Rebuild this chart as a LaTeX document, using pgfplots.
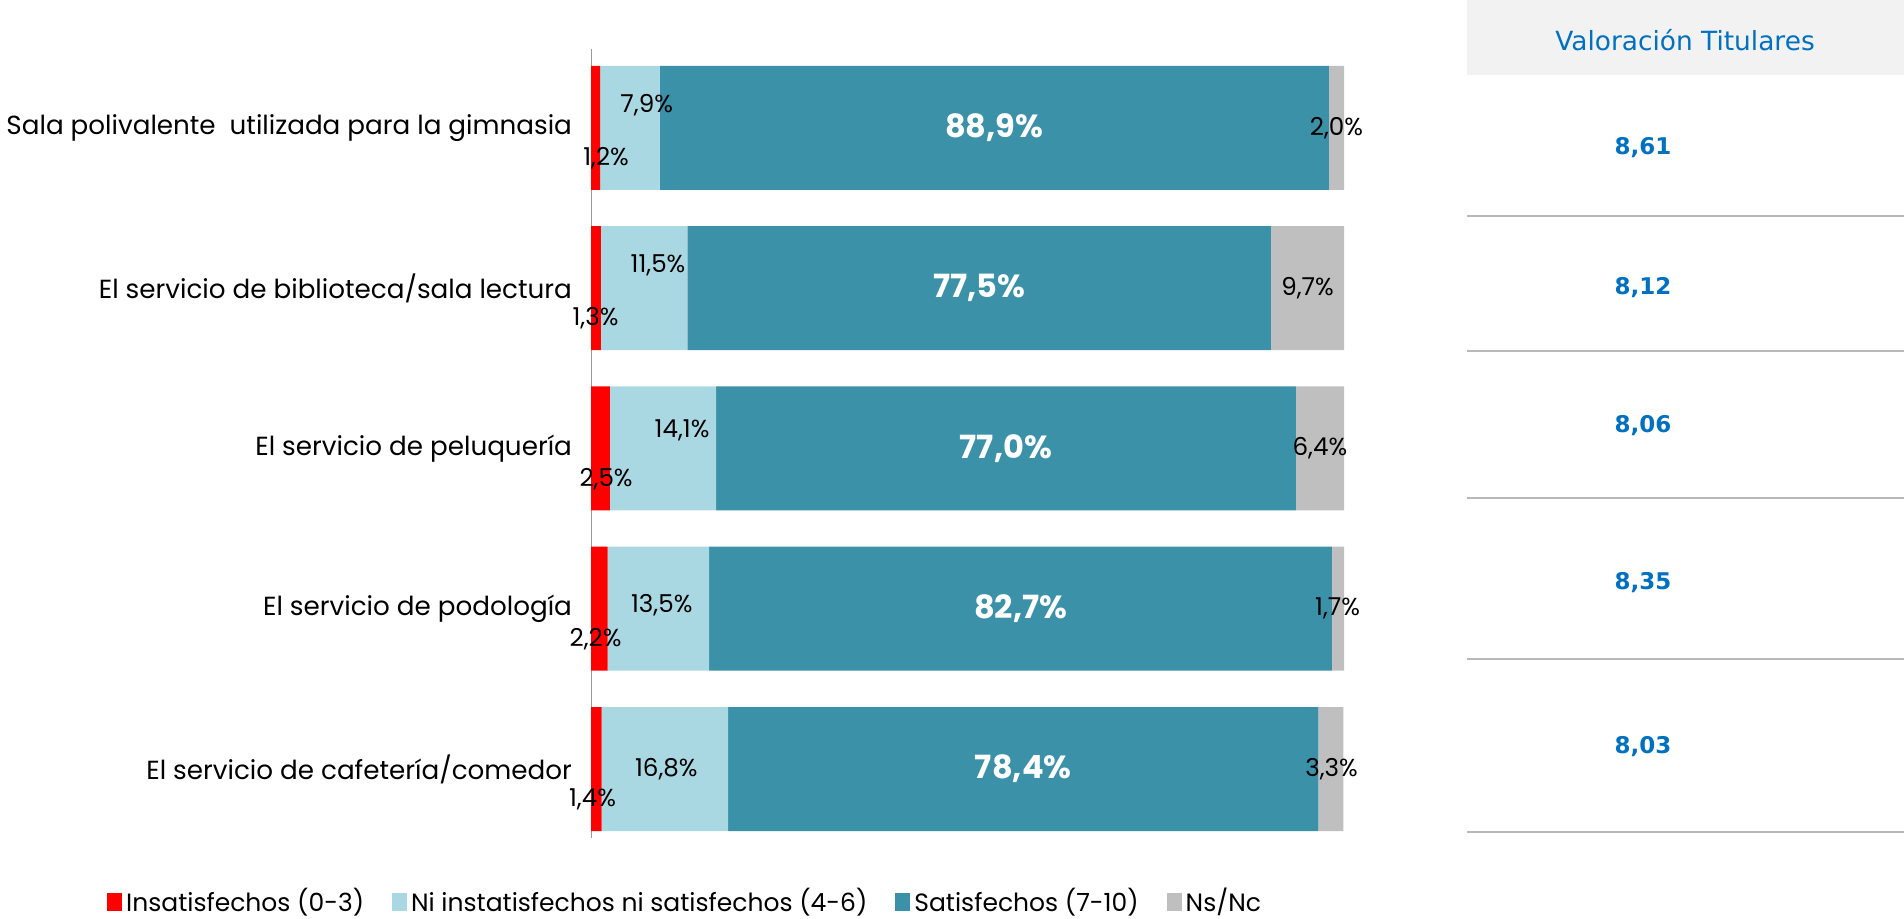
\documentclass[border=0pt]{standalone}
\usepackage{fontspec}
\setmainfont{Poppins}
\newfontfamily\verd{DejaVu Sans}
\usepackage{pgfplots}
\pgfplotsset{compat=1.18}
\usepackage{pgfplotstable}

\definecolor{cRed}{HTML}{FF0000}
\definecolor{cLight}{HTML}{A9D8E3}
\definecolor{cTeal}{HTML}{3A91A8}
\definecolor{cGray}{HTML}{BFBFBF}
\definecolor{cBlue}{HTML}{0070C0}
\definecolor{cHead}{HTML}{F2F2F2}

\pgfplotstableread{
y r lb t g
0 1.2 7.9 88.9 2.0
1 1.3 11.5 77.5 9.7
2 2.5 14.1 77.0 6.4
3 2.2 13.5 82.7 1.7
4 1.4 16.8 78.4 3.3
}\data

% label positions (x = position along bar, y = row with offset, v = value)
\pgfplotstableread{
x y v
2.0 0.19 1.2
0.6 1.19 1.3
2.0 2.19 2.5
0.6 3.19 2.2
0.2 4.19 1.4
}\labR
\pgfplotstableread{
x y v
7.4 -0.14 7.9
8.9 0.86 11.5
12.1 1.89 14.1
9.4 2.98 13.5
10.0 4.0 16.8
}\labL
\pgfplotstableread{
x y v
53.55 0 88.9
51.55 1 77.5
55.1 2 77.0
57.05 3 82.7
57.4 4 78.4
}\labT
\pgfplotstableread{
x y v
99.0 0 2.0
95.15 1 9.7
96.8 2 6.4
99.15 3 1.7
98.35 4 3.3
}\labG

\pgfplotsset{
  sqleg/.style={legend image code/.code={\fill[##1] (0pt,-5pt) rectangle (7.5pt,4pt);}},
  common/.style={
    at={(295.5pt,40.5pt)}, anchor=south west, scale only axis,
    width=376.5pt, height=394.4pt,
    xmin=0, xmax=100, ymin=-0.49, ymax=4.43, y dir=reverse,
  },
  pct/.style={
    nodes near coords={\pgfmathprintnumber[fixed,fixed zerofill,precision=1,use comma,assume math mode=true]{\pgfplotspointmeta}\%},
    nodes near coords align=center, point meta=explicit, draw=none, mark=none,
  }
}

\begin{document}
\begin{tikzpicture}[x=1pt,y=1pt]
\useasboundingbox (0,0) rectangle (952,459.5);
\begin{axis}[common,
  xbar stacked, bar width=62pt,
  hide x axis, axis line style={draw=none},
  ytick={0,...,4}, major tick length=0pt,
  yticklabels={Sala polivalente \ utilizada para la gimnasia, El servicio de biblioteca/sala lectura, El servicio de peluquería, El servicio de podología, El servicio de cafetería/comedor},
  yticklabel style={font=\fontsize{13.1}{15}\selectfont, anchor=east, xshift=-6pt},
  legend columns=4,
  legend style={at={(-0.651,-0.080)}, anchor=west, draw=none, fill=none,
    font=\fontsize{12.5}{15}\selectfont,
    /tikz/every even column/.append style={column sep=12pt},
    /tikz/every odd column/.append style={column sep=0pt}},
]
\addplot[sqleg, fill=cRed, draw=none] table[x=r, y=y] {\data};
\addplot[sqleg, fill=cLight, draw=none] table[x=lb, y=y] {\data};
\addplot[sqleg, fill=cTeal, draw=none] table[x=t, y=y] {\data};
\addplot[sqleg, fill=cGray, draw=none] table[x=g, y=y] {\data};
\legend{Insatisfechos (0-3), Ni instatisfechos ni satisfechos (4-6), Satisfechos (7-10), Ns/Nc}
\draw[black!40, line width=0.8pt] (rel axis cs:0,0) -- (rel axis cs:0,1);
\end{axis}
\begin{axis}[common, hide axis, clip=false,
  every node near coord/.append style={font=\fontsize{12.3}{14}\selectfont, inner sep=0pt}]
\addplot[pct] table[x=x, y=y, meta=v] {\labR};
\addplot[pct] table[x=x, y=y, meta=v] {\labL};
\addplot[pct, every node near coord/.append style={font=\bfseries\fontsize{16}{18}\selectfont, text=white}] table[x=x, y=y, meta=v] {\labT};
\addplot[pct] table[x=x, y=y, meta=v] {\labG};
\end{axis}
% right-hand table
\fill[cHead] (733.5,422) rectangle (952,459.5);
\node[font=\verd\fontsize{13.2}{15}\selectfont, text=cBlue] at (842.5,439.5) {Valoración Titulares};
\foreach \yy/\vv in {385.5/{8,61}, 315.5/{8,12}, 246.5/{8,06}, 168/{8,35}, 86/{8,03}}
  \node[font=\verd\bfseries\fontsize{11.5}{13}\selectfont, text=cBlue] at (821.5,\yy) {\vv};
\foreach \yy in {351.5, 284, 210.5, 130, 43.5}
  \draw[black!28, line width=0.7pt] (733.5,\yy) -- (952,\yy);
\end{tikzpicture}
\end{document}
